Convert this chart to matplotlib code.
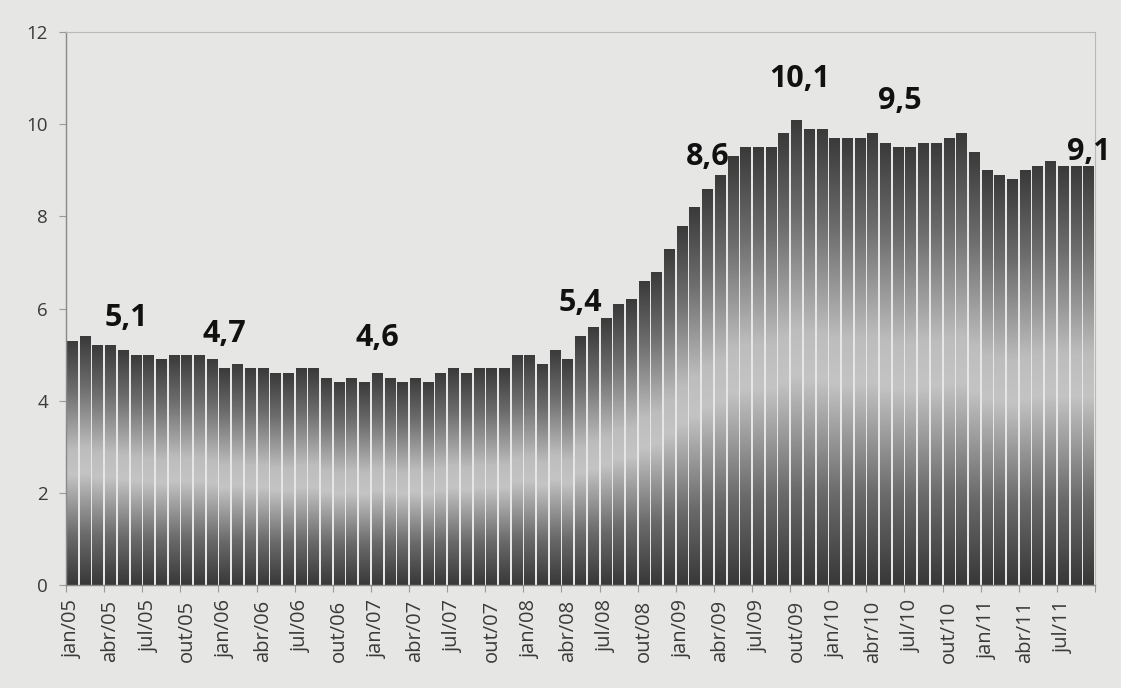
from __future__ import annotations

import matplotlib

matplotlib.use("Agg")
import matplotlib.pyplot as plt
import numpy as np
from matplotlib.colors import LinearSegmentedColormap
from matplotlib.ticker import FixedLocator, MultipleLocator


OUTPUT_PLOT = "out.png"

# Monthly series, jan/05 .. set/11
MONTHS = ["jan", "fev", "mar", "abr", "mai", "jun", "jul", "ago", "set", "out", "nov", "dez"]
YEARS = [5, 6, 7, 8, 9, 10, 11]
N_MONTHS = 81

VALUES = [
    5.3, 5.4, 5.2, 5.2, 5.1, 5.0, 5.0, 4.9, 5.0, 5.0, 5.0, 4.9,  # 2005
    4.7, 4.8, 4.7, 4.7, 4.6, 4.6, 4.7, 4.7, 4.5, 4.4, 4.5, 4.4,  # 2006
    4.6, 4.5, 4.4, 4.5, 4.4, 4.6, 4.7, 4.6, 4.7, 4.7, 4.7, 5.0,  # 2007
    5.0, 4.8, 5.1, 4.9, 5.4, 5.6, 5.8, 6.1, 6.2, 6.6, 6.8, 7.3,  # 2008
    7.8, 8.2, 8.6, 8.9, 9.3, 9.5, 9.5, 9.5, 9.8, 10.1, 9.9, 9.9,  # 2009
    9.7, 9.7, 9.7, 9.8, 9.6, 9.5, 9.5, 9.6, 9.6, 9.7, 9.8, 9.4,  # 2010
    9.0, 8.9, 8.8, 9.0, 9.1, 9.2, 9.1, 9.1, 9.1,  # 2011
]

# Highlighted values (bar index, text)
LABEL_IDX = [4, 12, 24, 40, 50, 57, 65, 80]
LABEL_TXT = ["5,1", "4,7", "4,6", "5,4", "8,6", "10,1", "9,5", "9,1"]
# label offsets from bar top, in points (x, y)
LABEL_OFFSETS = [(2, 23), (0, 25), (0, 25), (0, 24), (0, 23), (2, 29), (1, 33), (0, 10)]

FONT = ["Open Sans", "DejaVu Sans"]
BG = "#e6e6e4"


def month_labels() -> list[str]:
    labels = [f"{m}/{y:02d}" for y in YEARS for m in MONTHS]
    return labels[:N_MONTHS]


def main() -> None:
    plt.rcParams["font.family"] = FONT

    labels = month_labels()
    x = np.arange(len(VALUES))

    fig = plt.figure(figsize=(11.21, 6.88), dpi=100, facecolor=BG)
    ax = fig.add_axes([66 / 1121, 1 - 585 / 688, (1095 - 66) / 1121, (585 - 32) / 688])
    ax.set_facecolor(BG)

    bars = ax.bar(x, VALUES, width=0.84, color="none", edgecolor="none", zorder=2)

    # dark-light-dark vertical gradient inside every bar
    cmap = LinearSegmentedColormap.from_list(
        "bar_grad",
        [
            (0.0, "#383838"),
            (0.2, "#6a6a6a"),
            (0.45, "#c4c4c4"),
            (0.55, "#bdbdbd"),
            (0.8, "#6c6c6c"),
            (1.0, "#3a3a3a"),
        ],
    )
    grad = np.linspace(0, 1, 256).reshape(-1, 1)
    for patch in bars.patches:
        x0, y0 = patch.get_x(), patch.get_y()
        w, h = patch.get_width(), patch.get_height()
        im = ax.imshow(
            grad,
            extent=[x0, x0 + w, y0, y0 + h],
            origin="lower",
            aspect="auto",
            cmap=cmap,
            zorder=2,
        )
        im.set_clip_path(patch)

    ax.set_xlim(-0.5, len(VALUES) - 0.5)
    ax.set_ylim(0, 12)
    ax.yaxis.set_major_locator(MultipleLocator(2))

    tick_pos = list(range(0, len(VALUES), 3))
    ax.set_xticks(tick_pos)
    ax.set_xticklabels([labels[i] for i in tick_pos], rotation=90)
    ax.xaxis.set_minor_locator(FixedLocator(np.arange(-0.5, len(VALUES), 3)))
    ax.tick_params(axis="x", which="major", length=0, pad=11, labelsize=14.5, labelcolor="#3a3a3a")
    ax.tick_params(axis="x", which="minor", length=5, color="#9a9a9a", width=0.8)
    ax.tick_params(axis="y", length=5, color="#9a9a9a", width=0.8, pad=8, labelsize=13.5, labelcolor="#3a3a3a")

    for side in ("left", "bottom"):
        ax.spines[side].set_color("#8a8a8a")
        ax.spines[side].set_linewidth(1.0)
    for side in ("top", "right"):
        ax.spines[side].set_color("#b8b8b8")
        ax.spines[side].set_linewidth(0.8)

    for idx, txt, (dx, dy) in zip(LABEL_IDX, LABEL_TXT, LABEL_OFFSETS):
        ax.annotate(
            txt,
            xy=(x[idx], VALUES[idx]),
            xytext=(dx, dy),
            textcoords="offset points",
            ha="center",
            va="center",
            fontsize=22,
            fontweight="bold",
            color="#111111",
            annotation_clip=False,
            zorder=3,
        )

    fig.savefig(OUTPUT_PLOT, dpi=100, facecolor=BG)
    plt.close(fig)


if __name__ == "__main__":
    main()
